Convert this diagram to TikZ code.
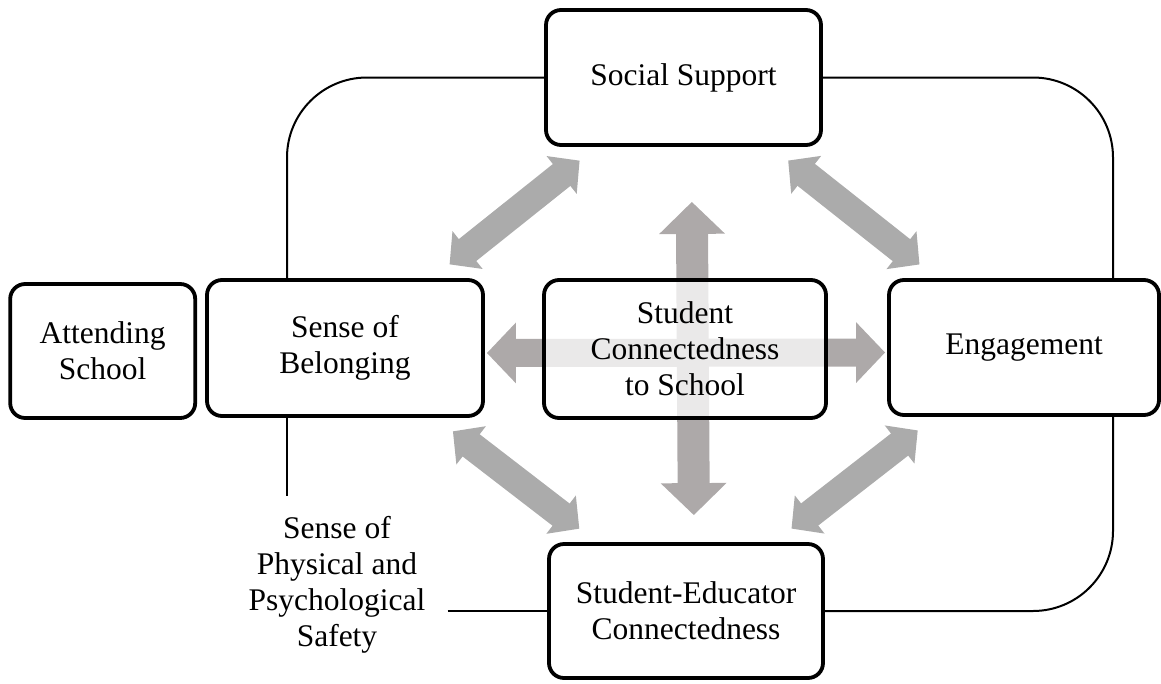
\documentclass[tikz,border=0pt]{standalone}
\usepackage{fontspec}
\setmainfont{Liberation Serif}
\usetikzlibrary{arrows.meta,positioning}
\definecolor{linkgray}{RGB}{171,171,171}
\definecolor{crossgray}{RGB}{173,169,169}

\begin{document}
\begin{tikzpicture}[
    x=1pt, y=-1pt,
    every node/.style={font=\fontsize{31.5}{36}\selectfont},
    box/.style={rectangle, draw, line width=3.8pt, rounded corners=15pt, fill=white, align=center, inner sep=0pt},
    plain/.style={align=center, inner xsep=22pt, inner ysep=20pt},
    link/.style={line width=2pt},
    twoway/.style={{Triangle[length=23pt,width=47pt]}-{Triangle[length=23pt,width=47pt]}, line width=28pt, draw=linkgray, shorten <=22pt, shorten >=22pt},
    crossv/.style={{Triangle[length=32pt,width=64pt]}-{Triangle[length=32pt,width=64pt]}, line width=32pt, draw=crossgray},
    crossh/.style={{Triangle[length=29pt,width=59pt]}-{Triangle[length=29pt,width=59pt]}, line width=28pt, draw=crossgray}
]
    \useasboundingbox (0,0) rectangle (1161,683);

    % outer ring of factors
    \node[box, minimum width=275pt, minimum height=135pt] (support) at (683.5,77.5) {Social Support};
    \node[box, minimum width=276pt, minimum height=136pt] (belong) at (345,348) {Sense of\\Belonging};
    \node[box, minimum width=185pt, minimum height=134pt, left=8pt of belong, yshift=-3pt] (attend) {Attending\\School};
    \node[box, minimum width=270pt, minimum height=135pt] (engage) at (1024,347.5) {Engagement};
    \node[box, minimum width=274pt, minimum height=134pt] (educator) at (686,611) {Student-Educator\\Connectedness};
    \node[plain] (safety) at (337,585) {Sense of\\Physical and\\Psychological\\Safety};

    % thin links around the ring
    \draw[link, rounded corners=80pt] (support.west) -| ([xshift=-58pt]belong.north);
    \draw[link, rounded corners=80pt] (support.east) -| ([xshift=89pt]engage.north);
    \draw[link, rounded corners=80pt] ([xshift=89pt]engage.south) |- (educator.east);
    \coordinate (belongfoot) at ([xshift=-58pt]belong.south);
    \draw[link] (belongfoot) -- (belongfoot |- safety.north);
    \draw[link] (safety.east |- educator.west) -- (educator.west);

    % two-way arrows between neighbours
    \draw[twoway] (support) -- (belong);
    \draw[twoway] (support) -- (engage);
    \draw[twoway] (belong) -- (educator);
    \draw[twoway] (engage) -- (educator);

    % cross behind the centre
    \draw[crossv, shorten <=55pt, shorten >=27pt] ([xshift=8pt]support.south) -- ([xshift=8pt]educator.north);
    \draw[crossh, shorten <=2pt, shorten >=2pt] ([yshift=-5pt]belong.east) -- ([yshift=-5pt]engage.west);

    \node[box, fill opacity=0.75, text opacity=1, minimum width=282pt, minimum height=138pt] (school) at (685,349) {Student\\Connectedness\\to School};
\end{tikzpicture}
\end{document}
